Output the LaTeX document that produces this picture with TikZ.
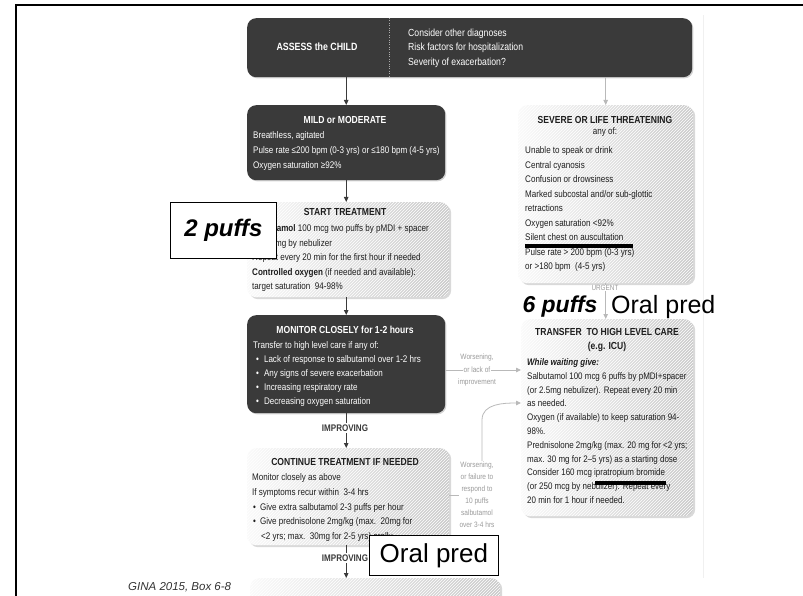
\documentclass[tikz,border=0pt]{standalone}
\usepackage{fontspec}
\setmainfont{Liberation Sans}
\newfontfamily\cond{Liberation Sans}[FakeStretch=0.84]
\usetikzlibrary{arrows.meta,shadows,patterns}
\definecolor{boxdark}{HTML}{3A3A3A}
\definecolor{labgray}{HTML}{9A9A9A}
\definecolor{txtdark}{HTML}{1E1E1E}
\begin{document}
\begin{tikzpicture}[x=1pt,y=-1pt,
  darkbox/.style={fill=boxdark, rounded corners=9pt, inner sep=0pt, anchor=north west,
    drop shadow={shadow xshift=1.2pt,shadow yshift=-1.2pt,opacity=0.35}},
  lightbox/.style={left color=gray!4, right color=gray!42, rounded corners=9pt, inner sep=0pt, anchor=north west,
    drop shadow={shadow xshift=2pt,shadow yshift=-2pt,opacity=0.3},
    postaction={pattern=north east lines, pattern color=white}},
  whitebox/.style={fill=white, draw=black, line width=0.8pt, inner sep=0pt, anchor=north west},
  ttl/.style={font=\cond\bfseries\fontsize{10.2}{12}\selectfont, inner sep=0pt, text=txtdark},
  bodytxt/.style={align=left, anchor=north west, inner sep=0pt, text=txtdark, font=\cond\fontsize{9.6}{#1}\selectfont},
  bodytxt/.default=14.5,
  lab/.style={font=\cond\fontsize{7.8}{12}\selectfont, text=labgray, inner sep=0.8pt, align=center},
  impr/.style={font=\cond\bfseries\fontsize{9.6}{11}\selectfont, text=boxdark, fill=white, inner sep=1.5pt},
  urg/.style={font=\cond\fontsize{7.6}{9}\selectfont, text=labgray, fill=white, inner sep=0.5pt},
  darr/.style={draw=boxdark, line width=0.9pt, -{Triangle[length=5pt,width=4.5pt]}},
  garr/.style={draw=gray!55, line width=0.8pt, -{Triangle[length=5pt,width=4.5pt]}},
  gline/.style={draw=gray!55, line width=0.8pt}
]
\clip (0,0) rectangle (803,596);
% frame
\draw[line width=2.5pt] (16,605) -- (16,5) -- (810,5);
\draw[gray!12, line width=0.6pt] (703,15) -- (703,578);

% top box
\node[darkbox, minimum width=445pt, minimum height=59pt] (assess) at (247,18) {};
\draw[gray!65, dotted] (389,18) -- (389,77);
\node[ttl, text=white, font=\cond\bfseries\fontsize{10.5}{12}\selectfont] (assesst) at (317,47) {ASSESS\ the CHILD};
\node[bodytxt, text=white, font=\cond\fontsize{10.3}{14.5}\selectfont] (assessr) at (408,28.5) {Consider other diagnoses\\Risk factors for hospitalization\\Severity of exacerbation?};

% MILD
\node[darkbox, minimum width=198pt, minimum height=75pt] (mild) at (247,105) {};
\node[ttl, text=white] (mildt) at (345,120) {MILD or MODERATE};
\node[bodytxt=15, text=white] (mildb) at (253,131.5) {Breathless, agitated\\Pulse rate ≤200 bpm (0-3 yrs) or ≤180 bpm (4-5 yrs)\\Oxygen saturation ≥92\%};

% START
\node[lightbox, minimum width=202pt, minimum height=95pt] (start) at (247,202) {};
\node[ttl] (startt) at (345,212) {START TREATMENT};
\node[bodytxt] (startb) at (252,224.5) {\textbf{Salbutamol} 100 mcg two puffs by pMDI + spacer\\or 2.5 mg by nebulizer\\Repeat every 20 min for the first hour if needed\\\textbf{Controlled oxygen} (if needed and available):\\target saturation\ \ 94-98\%};
\node[whitebox, minimum width=106pt, minimum height=56pt, font=\bfseries\itshape\fontsize{24}{28}\selectfont] (twopuffs) at (170,202) {2 puffs};

% MONITOR
\node[darkbox, minimum width=198pt, minimum height=98pt] (monitor) at (247,315) {};
\node[ttl, text=white] (monitort) at (345,330) {MONITOR CLOSELY for 1-2 hours};
\node[bodytxt=14, text=white] (monitorb) at (253,341.5) {Transfer to high level care if any of:\\\hspace*{3pt}•\hspace*{5pt}Lack of response to salbutamol over 1-2 hrs\\\hspace*{3pt}•\hspace*{5pt}Any signs of severe exacerbation\\\hspace*{3pt}•\hspace*{5pt}Increasing respiratory rate\\\hspace*{3pt}•\hspace*{5pt}Decreasing oxygen saturation};

% CONTINUE
\node[lightbox, minimum width=202pt, minimum height=97pt] (cont) at (247,448) {};
\node[ttl] (contt) at (345,462) {CONTINUE TREATMENT IF NEEDED};
\node[bodytxt=14.75] (contb) at (252,473.5) {Monitor closely as above\\If symptoms recur within\ \ 3-4 hrs\\\hspace*{1pt}•\hspace*{4pt}Give extra salbutamol 2-3 puffs per hour\\\hspace*{1pt}•\hspace*{4pt}Give prednisolone 2mg/kg (max.\ \ 20mg for\\\hspace*{9pt}<2 yrs; max.\ \ 30mg for 2-5 yrs) orally};

% next box (cut off)
\node[lightbox, minimum width=250pt, minimum height=40pt] (nextbox) at (250,578) {};

% left arrows
\draw[darr] (assess.south -| mild.north) -- (mild.north);
\draw[darr] (mild.south) -- (mild.south |- start.north);
\draw[darr] (start.south -| mild.south) -- (mild.south |- monitor.north);
\draw[darr] (monitor.south) -- (monitor.south |- cont.north);
\node[impr] (impr1) at (345,428) {IMPROVING};
\draw[darr] (cont.south -| monitor.south) -- (monitor.south |- nextbox.north);
\node[impr] (impr2) at (345,558) {IMPROVING};

\node[whitebox, minimum width=129pt, minimum height=40pt, font=\fontsize{26}{30}\selectfont] (oral2) at (369,535) {Oral pred};

% SEVERE
\node[lightbox, minimum width=175pt, minimum height=178pt] (severe) at (518,105) {};
\node[ttl] (severet) at (605,120) {SEVERE OR LIFE THREATENING};
\node[ttl, font=\cond\fontsize{9.6}{12}\selectfont] (anyof) at (605,132) {any of:};
\node[bodytxt] (severeb) at (525,146.5) {Unable to speak or drink\\Central cyanosis\\Confusion or drowsiness\\Marked subcostal and/or sub-glottic\\retractions\\Oxygen saturation <92\%\\Silent chest on auscultation\\Pulse rate > 200 bpm (0-3 yrs)\\or >180 bpm\ \ (4-5 yrs)};
\fill[black] (525,243.5) rectangle (633,247.5);

% TRANSFER
\node[lightbox, minimum width=172pt, minimum height=197pt] (transfer) at (521,319) {};
\node[ttl] (transfert) at (607,332) {TRANSFER\ \ TO HIGH LEVEL CARE};
\node[ttl] (icu) at (607,347) {(e.g. ICU)};
\node[bodytxt=13.8, font=\cond\fontsize{9.5}{13.8}\selectfont] (transferb) at (527,358.5) {\textbf{\textit{While waiting give:}}\\Salbutamol 100 mcg 6 puffs by pMDI+spacer\\(or 2.5mg nebulizer). Repeat every 20 min\\as needed.\\Oxygen (if available) to keep saturation 94-\\98\%.\\Prednisolone 2mg/kg (max. 20 mg for <2 yrs;\\max. 30 mg for 2–5 yrs) as a starting dose\\Consider 160 mcg ipratropium bromide\\(or 250 mcg by nebulizer). Repeat every\\20 min for 1 hour if needed.};
\fill[black] (595,481) rectangle (666,485);

% right arrows
\draw[garr] (assess.south -| severe.north) -- (severe.north);
\draw[garr] (severe.south) -- (severe.south |- transfer.north);
\node[urg] (urgent) at (605,288) {URGENT};
\node[font=\bfseries\itshape\fontsize{23}{26}\selectfont, anchor=base, inner sep=0pt] (sixpuffs) at (560,312) {6 puffs};
\node[font=\fontsize{25}{30}\selectfont, anchor=base west, inner sep=0pt] (oral1) at (611,313) {Oral pred};

% worsening 1
\coordinate (w1) at (477,370);
\draw[garr] (monitor.east |- w1) -- (w1 -| transfer.west);
\node[lab, fill=white] (lab1m) at (w1) {or lack of};
\node[lab] (lab1t) at (477,357.5) {Worsening,};
\node[lab] (lab1b) at (477,382.5) {improvement};

% worsening 2
\node[lab] (lab2) at (477,495) {Worsening,\\or failure to\\respond to\\10 puffs\\salbutamol\\over 3-4 hrs};
\draw[gline] (cont.east |- lab2.west) -- (lab2.west);
\coordinate (bend2) at (482,420);
\coordinate (ent2) at (521,403);
\draw[garr] (lab2.north -| bend2) -- (bend2) to[out=90,in=180] (transfer.west |- ent2);

% source
\node[font=\itshape\fontsize{11.5}{13}\selectfont, text=black!80, anchor=west, inner sep=0pt] (gina) at (128,587) {GINA 2015, Box 6-8};
\end{tikzpicture}
\end{document}
